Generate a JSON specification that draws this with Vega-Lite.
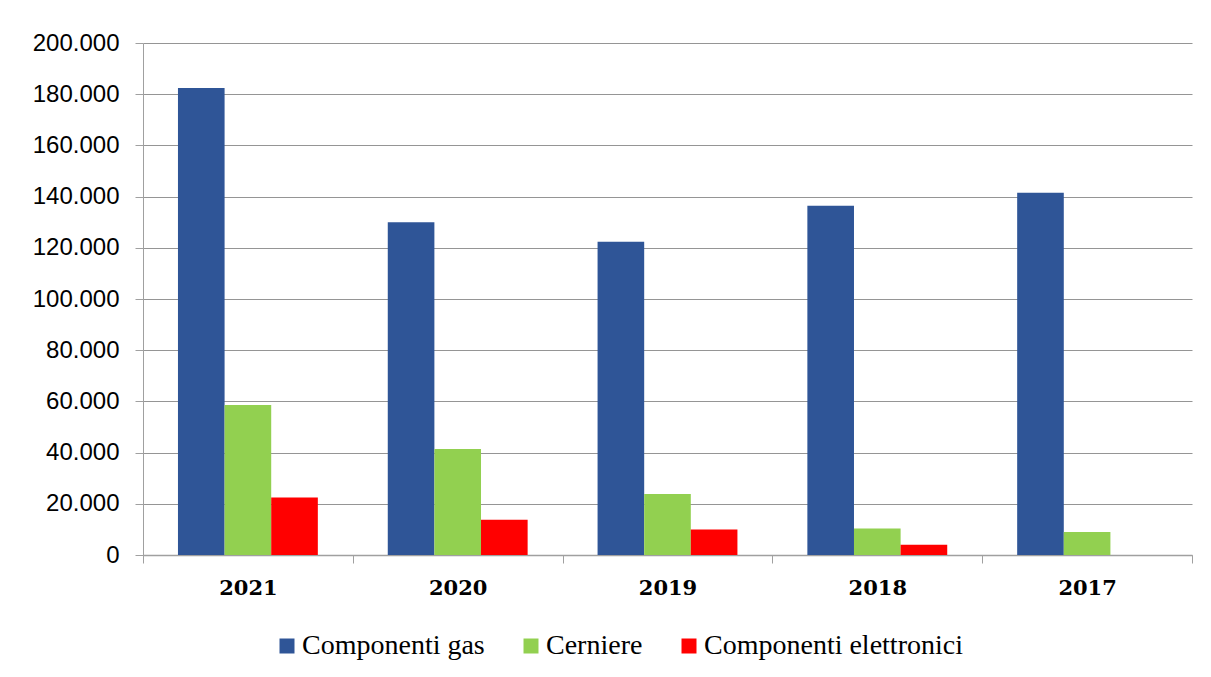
{
  "$schema": "https://vega.github.io/schema/vega-lite/v6.json",
  "autosize": "none",
  "width": 1049,
  "height": 512,
  "padding": {"left": 143, "top": 43, "right": 19, "bottom": 122},
  "background": "white",
  "config": {
    "locale": {"number": {"decimal": ",", "thousands": ".", "grouping": [3], "currency": ["€", ""]}},
    "view": {"stroke": null},
    "axis": {"domainColor": "#a0a0a0", "tickColor": "#a0a0a0", "gridColor": "#959595", "gridWidth": 1}
  },
  "data": {
    "values": [
      {"anno": "2021", "categoria": "Componenti gas", "valore": 182400},
      {"anno": "2021", "categoria": "Cerniere", "valore": 58600},
      {"anno": "2021", "categoria": "Componenti elettronici", "valore": 22500},
      {"anno": "2020", "categoria": "Componenti gas", "valore": 130000},
      {"anno": "2020", "categoria": "Cerniere", "valore": 41400},
      {"anno": "2020", "categoria": "Componenti elettronici", "valore": 13800},
      {"anno": "2019", "categoria": "Componenti gas", "valore": 122400},
      {"anno": "2019", "categoria": "Cerniere", "valore": 23800},
      {"anno": "2019", "categoria": "Componenti elettronici", "valore": 10000},
      {"anno": "2018", "categoria": "Componenti gas", "valore": 136400},
      {"anno": "2018", "categoria": "Cerniere", "valore": 10400},
      {"anno": "2018", "categoria": "Componenti elettronici", "valore": 4000},
      {"anno": "2017", "categoria": "Componenti gas", "valore": 141500},
      {"anno": "2017", "categoria": "Cerniere", "valore": 9000}
    ]
  },
  "mark": {"type": "bar"},
  "encoding": {
    "x": {
      "field": "anno", "type": "nominal",
      "sort": ["2021", "2020", "2019", "2018", "2017"],
      "scale": {"paddingInner": 0, "paddingOuter": 0},
      "axis": {
        "title": null, "labelAngle": 0, "tickBand": "extent", "tickSize": 8,
        "labelFont": "DejaVu Serif", "labelFontWeight": "bold", "labelFontSize": 21,
        "labelColor": "#000000", "labelPadding": 14, "domainWidth": 1.5
      }
    },
    "xOffset": {
      "field": "categoria", "type": "nominal",
      "sort": ["Componenti gas", "Cerniere", "Componenti elettronici"],
      "scale": {"paddingInner": 0, "paddingOuter": 0.75}
    },
    "y": {
      "field": "valore", "type": "quantitative",
      "scale": {"domain": [0, 200000], "nice": false},
      "axis": {
        "title": null, "values": [0, 20000, 40000, 60000, 80000, 100000, 120000, 140000, 160000, 180000, 200000],
        "format": ",.0f", "tickSize": 8, "labelPadding": 16,
        "labelFont": "Liberation Sans", "labelFontSize": 24, "labelColor": "#000000",
        "grid": true
      }
    },
    "color": {
      "field": "categoria", "type": "nominal",
      "sort": ["Componenti gas", "Cerniere", "Componenti elettronici"],
      "scale": {"domain": ["Componenti gas", "Cerniere", "Componenti elettronici"], "range": ["#2F5597", "#92D050", "#FF0000"]},
      "legend": {
        "title": null, "orient": "none", "direction": "horizontal",
        "legendX": 130, "legendY": 589,
        "symbolType": "square", "symbolSize": 225, "symbolStrokeWidth": 0,
        "labelFont": "Liberation Serif", "labelFontSize": 28, "labelColor": "#000000",
        "labelOffset": 1, "columnPadding": 32, "labelLimit": 400
      }
    }
  }
}
